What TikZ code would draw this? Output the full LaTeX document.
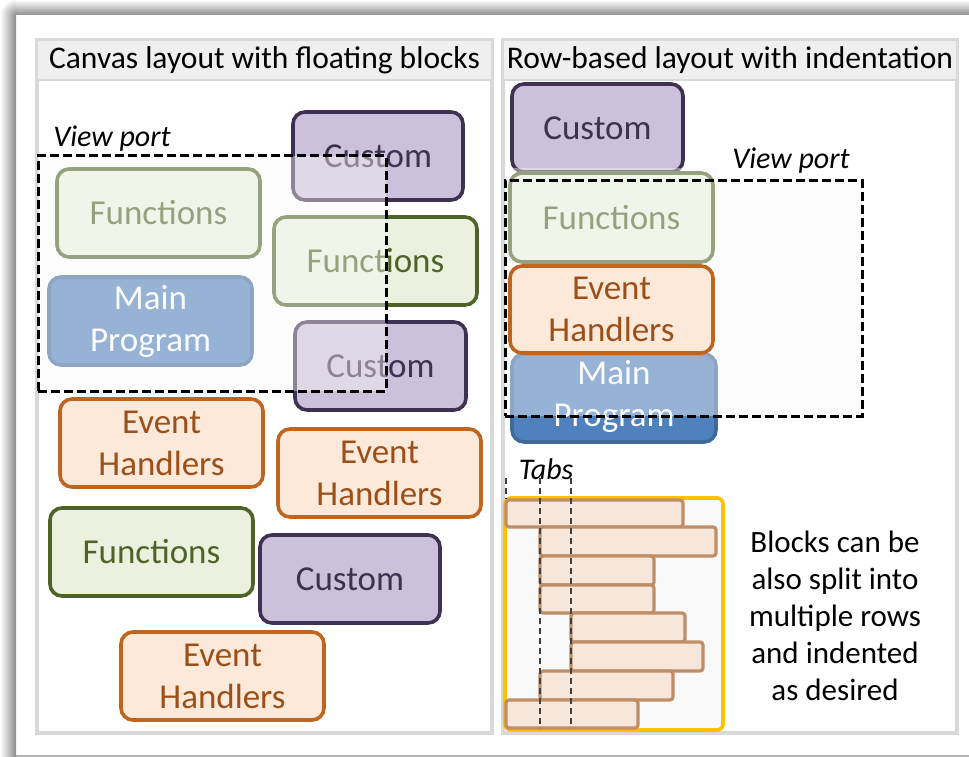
\documentclass[tikz,border=0pt]{standalone}
\usepackage{fontspec}
\setmainfont{Carlito}
\definecolor{purpfill}{HTML}{CCC1DA}
\definecolor{purpline}{HTML}{3F3151}
\definecolor{grnfill}{HTML}{EBF1DE}
\definecolor{grnline}{HTML}{4F6228}
\definecolor{orgfill}{HTML}{FDE9D9}
\definecolor{orgline}{HTML}{C0651F}
\definecolor{orgtext}{HTML}{9C5019}
\definecolor{blufill}{HTML}{4F81BD}
\definecolor{bluline}{HTML}{41699A}
\definecolor{vpfill}{HTML}{F9F9F9}
\definecolor{panelline}{HTML}{D9D9D9}
\definecolor{titlefill}{HTML}{EFEFEF}
\definecolor{barfill}{HTML}{F7E6DA}
\definecolor{barline}{HTML}{BF8D66}
\definecolor{tabbox}{HTML}{FFC000}
\definecolor{tabfill}{HTML}{F9F9F9}
\begin{document}
\begin{tikzpicture}[x=1pt,y=-1pt,
  blk/.style={rounded corners=12pt, line width=3.6pt, inner sep=0pt, align=center,
    font=\fontsize{35}{42}\selectfont},
  purp/.style={fill=purpfill, draw=purpline, text=purpline},
  grn/.style={fill=grnfill, draw=grnline, text=grnline},
  org/.style={fill=orgfill, draw=orgline, text=orgtext},
  blu/.style={fill=blufill, draw=bluline, text=white},
  vport/.style={fill=vpfill, fill opacity=0.42, draw=black, line width=3pt,
    dash pattern=on 9pt off 4pt, inner sep=0pt},
  vlabel/.style={font=\fontsize{30}{36}\selectfont\itshape, inner sep=0pt},
  panel/.style={draw=panelline, fill=white, line width=3.5pt, inner sep=0pt},
  titlebar/.style={draw=panelline, fill=titlefill, line width=2.5pt, inner sep=0pt,
    font=\fontsize{31.5}{36}\selectfont},
  bar/.style={draw=barline, fill=barfill, line width=3.2pt, rounded corners=3pt, inner sep=0pt},
  tabline/.style={draw=black!75, line width=1.8pt, dash pattern=on 6pt off 4pt},
  note/.style={align=center, inner sep=0pt, font=\fontsize{31}{37}\selectfont}
]
\useasboundingbox (0,0) rectangle (969,757);
\fill[white] (0,0) rectangle (969,757);

% soft frame edges
\shade[left color=white, right color=black!45] (0,15) rectangle (16,757);
\shade[top color=white, bottom color=black!45] (16,0) rectangle (969,15);
\begin{scope}
  \clip (0,0) rectangle (16,15);
  \shade[inner color=black!45, outer color=white] (16,15) circle (16);
\end{scope}
\draw[black!30, line width=2pt] (16,756) -- (969,756);

% ---------- left panel: canvas layout ----------
\node[panel, minimum width=455, minimum height=693] (pL) at (264.5,386.5) {};
\node[titlebar, minimum width=455, minimum height=40] (tL) at (264.5,60)
  {Canvas layout with floating blocks};

\node[blk, purp, minimum width=170, minimum height=88] (cusA) at (378,156) {Custom};
\node[blk, grn, minimum width=203, minimum height=88] (funA) at (158.5,213) {Functions};
\node[blk, grn, minimum width=203, minimum height=88] (funB) at (375.5,261) {Functions};
\node[blk, blu, minimum width=203, minimum height=88] (mainA) at (150.5,321) {Main\\Program};
\node[blk, purp, minimum width=171, minimum height=88] (cusB) at (380.5,366) {Custom};
\node[blk, org, minimum width=203, minimum height=88] (evA) at (161.5,443) {Event\\Handlers};
\node[blk, org, minimum width=203, minimum height=88] (evB) at (379.5,473) {Event\\Handlers};
\node[blk, grn, minimum width=203, minimum height=88] (funC) at (151.5,552) {Functions};
\node[blk, purp, minimum width=180, minimum height=88] (cusC) at (350,579) {Custom};
\node[blk, org, minimum width=203, minimum height=88] (evC) at (222.5,676) {Event\\Handlers};

\node[vport, minimum width=348, minimum height=235] (vpL) at (212,273.5) {};
\node[vlabel] (vpLtext) at (112,139) {View port};

% ---------- right panel: row-based layout ----------
\node[panel, minimum width=454, minimum height=693] (pR) at (730,386.5) {};
\node[titlebar, minimum width=454, minimum height=40] (tR) at (730,60)
  {Row-based layout with indentation};

\node[blk, purp, minimum width=171, minimum height=88] (cusR) at (597.5,128) {Custom};
\node[blk, grn, minimum width=203, minimum height=89] (funR) at (611.5,217.5) {Functions};
\node[blk, blu, minimum width=204, minimum height=88] (mainR) at (614,398) {};
\begin{scope}
  \clip (505,354) rectangle (720,431);
  \node[blk, text=white, draw=none, fill=none] (mainRtext) at ([yshift=2pt]mainR.center) {Main\\Program};
\end{scope}

\node[vport, minimum width=357, minimum height=236] (vpR) at (683.5,298) {};
% the Functions row is dimmed along its top edge as well
\fill[vpfill, opacity=0.42] ([shift={(-3,-3)}]funR.north west) rectangle ([xshift=3pt]funR.north east |- vpR.north);
\node[blk, org, minimum width=203, minimum height=87] (evR) at (611.5,309.5) {Event\\Handlers};
\node[vlabel] (vpRtext) at (791,161) {View port};

% split rows with indentation
\node[draw=tabbox, fill=tabfill, line width=3.6pt, rounded corners=6pt, inner sep=0pt,
  minimum width=218, minimum height=232] (tabbox) at (614,614) {};
\node[bar, minimum width=177, minimum height=27] (bar1) at (594.5,513.5) {};
\node[bar, minimum width=176, minimum height=29] (bar2) at (628,541.5) {};
\node[bar, minimum width=114, minimum height=29] (bar3) at (597,570.5) {};
\node[bar, minimum width=114, minimum height=28] (bar4) at (597,599) {};
\node[bar, minimum width=114, minimum height=29] (bar5) at (628,627.5) {};
\node[bar, minimum width=132, minimum height=29] (bar6) at (637,656.5) {};
\node[bar, minimum width=133, minimum height=29] (bar7) at (606.5,685.5) {};
\node[bar, minimum width=132, minimum height=28] (bar8) at (572,714) {};

\node[vlabel] (tabs) at (546,469) {Tabs};
\coordinate (t0a) at (506,478); \coordinate (t0b) at (506,499);
\coordinate (t1a) at (540,478); \coordinate (t1b) at (540,728);
\coordinate (t2a) at (571,478); \coordinate (t2b) at (571,728);
\draw[tabline] (t0a) -- (t0b);
\draw[tabline] (t1a) -- (t1b);
\draw[tabline] (t2a) -- (t2b);

\node[note] (note) at (835,616)
  {Blocks can be\\also split into\\multiple rows\\and indented\\as desired};
\end{tikzpicture}
\end{document}
